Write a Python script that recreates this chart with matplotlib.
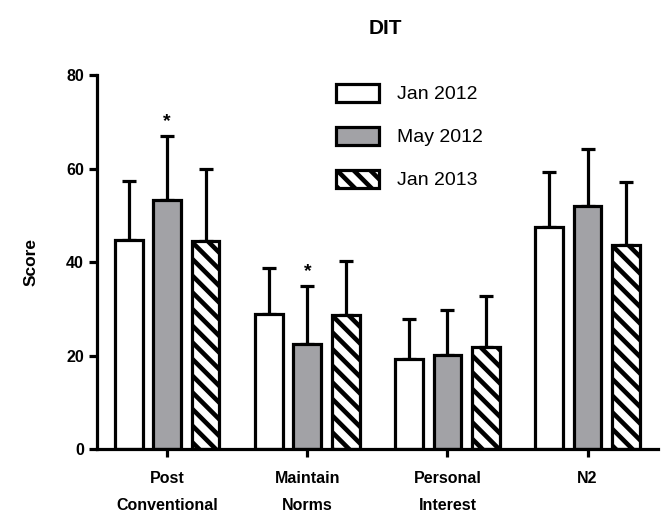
import numpy as np
import matplotlib.pyplot as plt
from matplotlib.patches import Patch

# DIT scores
categories = ["Post\nConventional", "Maintain\nNorms", "Personal\nInterest", "N2"]
series = ["Jan 2012", "May 2012", "Jan 2013"]
jan2012 = [44.7, 29.0, 19.2, 47.6]
may2012 = [53.3, 22.4, 20.1, 52.1]
jan2013 = [44.5, 28.7, 21.8, 43.6]
jan2012_err = [12.6, 9.8, 8.7, 11.7]
may2012_err = [13.7, 12.5, 9.6, 12.1]
jan2013_err = [15.4, 11.6, 11.0, 13.6]
stars = [(0, 1), (1, 1)]  # (category, series) marked significant

plt.rcParams['font.family'] = ['Liberation Sans', 'DejaVu Sans']
plt.rcParams['hatch.linewidth'] = 3.3


def main():
    fig = plt.figure(figsize=(6.65, 5.18), dpi=100)
    ax = fig.add_axes([0.146, 0.133, 0.843, 0.722])

    x = np.arange(len(categories))
    off = 0.274
    w = 0.198
    vals = [jan2012, may2012, jan2013]
    errs = [jan2012_err, may2012_err, jan2013_err]
    faces = ['white', '#a2a2a6', 'white']
    hatches = [None, None, '\\\\']

    for i in range(3):
        xi = x + (i - 1) * off
        ax.errorbar(xi, vals[i], yerr=[np.zeros(4), errs[i]], fmt='none',
                    ecolor='black', elinewidth=2.3, capsize=4.7, capthick=2.3, zorder=1)
        ax.bar(xi, vals[i], width=w, color=faces[i], edgecolor='black',
               linewidth=2.3, hatch=hatches[i], zorder=2)

    for c, s in stars:
        top = vals[s][c] + errs[s][c]
        ax.text(x[c] + (s - 1) * off, top + 1.2, "*", ha='center', va='bottom',
                fontsize=14, fontweight='bold')

    ax.set_xlim(-0.5, 3.5)
    ax.set_ylim(0, 80)
    ax.set_yticks([0, 20, 40, 60, 80])
    ax.set_xticks(x)
    ax.set_xticklabels(categories, fontsize=11.5, fontweight='bold', linespacing=2.0)
    for lab in ax.get_yticklabels():
        lab.set_fontsize(11.5)
        lab.set_fontweight('bold')
    ax.tick_params(axis='both', width=2.3, length=6, direction='out')
    ax.tick_params(axis='x', pad=10)
    for side in ['top', 'right']:
        ax.spines[side].set_visible(False)
    for side in ['left', 'bottom']:
        ax.spines[side].set_linewidth(2.3)

    ax.set_ylabel("Score", fontsize=12.5, fontweight='bold', labelpad=20)
    fig.text(0.58, 0.945, "DIT", ha='center', va='center', fontsize=15, fontweight='bold')

    handles = [Patch(facecolor=faces[i], edgecolor='black', linewidth=2.3, hatch=hatches[i])
               for i in range(3)]
    fig.legend(handles, series, loc='upper left', bbox_to_anchor=(0.491, 0.857),
               frameon=False, fontsize=14, handlelength=2.2, handleheight=1.05,
               handletextpad=0.95, labelspacing=1.2, borderpad=0)

    fig.savefig("out.png", dpi=100)


if __name__ == "__main__":
    main()
